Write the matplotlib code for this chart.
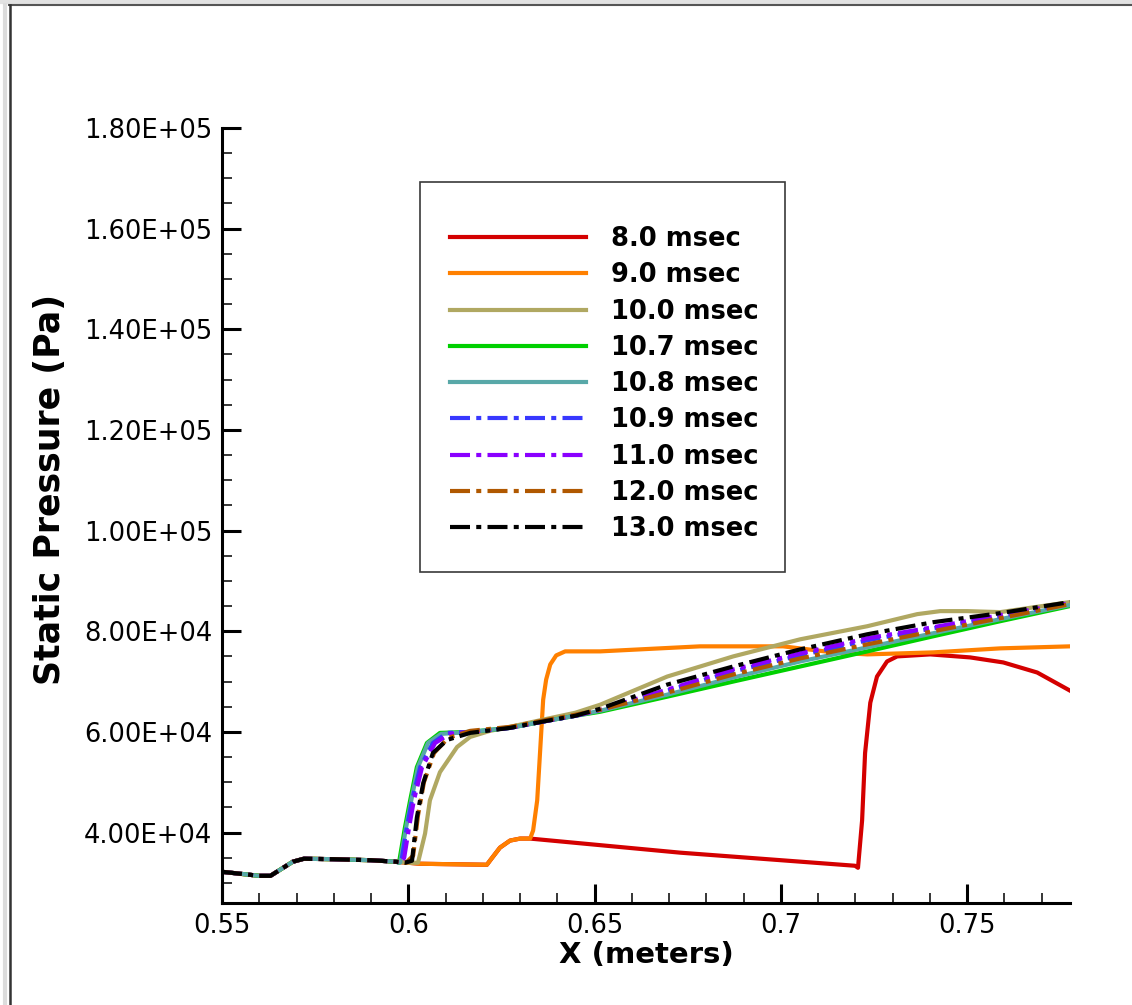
import matplotlib
matplotlib.use('Agg')
import matplotlib.pyplot as plt
from matplotlib.lines import Line2D
from matplotlib.patches import Rectangle
from matplotlib.ticker import MultipleLocator, FormatStrFormatter, FuncFormatter

plt.rcParams['font.family'] = ['DejaVu Sans']

labels = ['8.0 msec', '9.0 msec', '10.0 msec', '10.7 msec', '10.8 msec',
          '10.9 msec', '11.0 msec', '12.0 msec', '13.0 msec']
colors = ['#d40000', '#ff8000', '#b0a862', '#00d000', '#58a8a8',
          '#3838ff', '#8a00ff', '#b05800', '#000000']
dashed = [False, False, False, False, False, True, True, True, True]

# shared upstream part (X in m, static pressure in Pa)
x_base = [0.550, 0.555, 0.560, 0.563, 0.566, 0.569, 0.572, 0.580, 0.590, 0.5967]
p_base = [32200, 31800, 31400, 31400, 32800, 34200, 34800, 34700, 34500, 34200]

x_8_0 = [0.6032, 0.6211, 0.6219, 0.6246, 0.6273, 0.6300, 0.6327, 0.6730, 0.7199,
         0.7207, 0.7218, 0.7226, 0.7240, 0.7258, 0.7285, 0.7312, 0.7401, 0.7508,
         0.7597, 0.7688, 0.7776]
p_8_0 = [33800, 33600, 34400, 37000, 38400, 38800, 38800, 36000, 33400,
         33000, 42400, 55800, 65800, 71000, 74000, 75000, 75400, 74800,
         73800, 71800, 68200]

x_9_0 = [0.6032, 0.6211, 0.6219, 0.6246, 0.6273, 0.6300, 0.6327, 0.6335, 0.6346,
         0.6354, 0.6362, 0.6370, 0.6381, 0.6397, 0.6421, 0.6515, 0.6783, 0.7006,
         0.7140, 0.7232, 0.7409, 0.7589, 0.7776]
p_9_0 = [33800, 33600, 34400, 37000, 38400, 38800, 38800, 40400, 46400,
         56400, 66400, 70400, 73400, 75200, 76000, 76000, 77000, 77000,
         75800, 75400, 75800, 76600, 77000]

x_10_0 = [0.6005, 0.6026, 0.6045, 0.6058, 0.6085, 0.6131, 0.6166, 0.6219, 0.6273,
          0.6372, 0.6448, 0.6515, 0.6695, 0.6872, 0.7052, 0.7232, 0.7366, 0.7428,
          0.7500, 0.7589, 0.7776]
p_10_0 = [34000, 34000, 39800, 46400, 52000, 57000, 59000, 60200, 61000,
          62600, 63800, 65400, 71000, 75000, 78400, 81000, 83400, 84000,
          84000, 83800, 85800]

x_10_7 = [0.5975, 0.5991, 0.6005, 0.6023, 0.6050, 0.6085, 0.6166, 0.6273, 0.6372,
          0.6448, 0.6515, 0.6695, 0.6872, 0.7052, 0.7232, 0.7409, 0.7589, 0.7776]
p_10_7 = [34000, 41000, 46400, 53000, 57800, 59800, 60000, 60800, 62200,
          63200, 64000, 67000, 70000, 73000, 76000, 79000, 82000, 85000]

x_10_8 = [0.5978, 0.5994, 0.6008, 0.6026, 0.6053, 0.6088, 0.6166, 0.6273, 0.6372,
          0.6448, 0.6515, 0.6695, 0.6872, 0.7052, 0.7232, 0.7409, 0.7589, 0.7776]
p_10_8 = [34000, 41000, 46400, 53000, 57800, 59600, 60000, 60800, 62200,
          63200, 64200, 67400, 70800, 74000, 76800, 79600, 82400, 85200]

x_10_9 = [0.5978, 0.5983, 0.5996, 0.6010, 0.6032, 0.6066, 0.6104, 0.6166, 0.6273,
          0.6372, 0.6448, 0.6515, 0.6695, 0.6872, 0.7052, 0.7232, 0.7409, 0.7589,
          0.7776]
p_10_9 = [34000, 35000, 41000, 46400, 53000, 57800, 59800, 60000, 60800,
          62200, 63200, 64400, 68200, 72000, 75200, 78200, 80600, 83000,
          85600]

x_11_0 = [0.5981, 0.5989, 0.6002, 0.6015, 0.6037, 0.6072, 0.6112, 0.6166, 0.6273,
          0.6372, 0.6448, 0.6515, 0.6695, 0.6872, 0.7052, 0.7232, 0.7409, 0.7589,
          0.7776]
p_11_0 = [34000, 35000, 41000, 46400, 53000, 57800, 59600, 60000, 60800,
          62200, 63200, 64400, 68400, 72400, 75600, 78600, 80800, 83200,
          85600]

x_12_0 = [0.5994, 0.6013, 0.6026, 0.6042, 0.6069, 0.6107, 0.6166, 0.6273, 0.6372,
          0.6448, 0.6515, 0.6695, 0.6872, 0.7052, 0.7232, 0.7409, 0.7589, 0.7776]
p_12_0 = [34000, 35400, 43400, 50000, 55800, 58800, 60200, 61000, 62400,
          63400, 64400, 67800, 71400, 74600, 77400, 80000, 82600, 85400]

x_13_0 = [0.5991, 0.6010, 0.6023, 0.6040, 0.6066, 0.6104, 0.6166, 0.6273, 0.6372,
          0.6448, 0.6515, 0.6695, 0.6872, 0.7052, 0.7232, 0.7409, 0.7589, 0.7776]
p_13_0 = [34000, 34400, 43000, 49800, 55800, 58400, 59800, 60800, 62200,
          63200, 64600, 69400, 73000, 76400, 79400, 81800, 83600, 85800]

xs = [x_8_0, x_9_0, x_10_0, x_10_7, x_10_8, x_10_9, x_11_0, x_12_0, x_13_0]
ps = [p_8_0, p_9_0, p_10_0, p_10_7, p_10_8, p_10_9, p_11_0, p_12_0, p_13_0]

W, H = 1132, 1005
fig = plt.figure(figsize=(W / 100, H / 100), dpi=100)
ax = fig.add_axes([222 / W, 1 - 903 / H, (1070 - 222) / W, (903 - 128) / H])

lw = 3.0
dashdot = (0, (4.8, 1.5, 1.2, 1.5))
handles = []
for lab, col, dsh, xv, pv in zip(labels, colors, dashed, xs, ps):
    ls = dashdot if dsh else '-'
    h, = ax.plot(x_base + xv, p_base + pv, color=col, lw=lw, ls=ls, label=lab)
    handles.append(h)

ax.set_xlim(0.55, 0.7776)
ax.set_ylim(26000, 180000)

for s in ['top', 'right']:
    ax.spines[s].set_visible(False)
for s in ['left', 'bottom']:
    ax.spines[s].set_linewidth(2.2)
ax.xaxis.set_ticks_position('bottom')
ax.yaxis.set_ticks_position('left')

ax.xaxis.set_major_locator(MultipleLocator(0.05))
ax.xaxis.set_minor_locator(MultipleLocator(0.01))
ax.yaxis.set_major_locator(MultipleLocator(20000))
ax.yaxis.set_minor_locator(MultipleLocator(5000))
ax.xaxis.set_major_formatter(FuncFormatter(lambda v, p: '%g' % round(v, 4)))
ax.yaxis.set_major_formatter(FormatStrFormatter('%.2E'))
ax.tick_params(which='major', direction='in', length=14, width=2.2,
               labelsize=18.5, pad=7)
ax.tick_params(which='minor', direction='in', length=7, width=1.1)

ax.set_xlabel('X (meters)', fontsize=21, fontweight='bold')
ax.xaxis.set_label_coords(0.5, (903 - 955) / 775)
ax.xaxis.label.set_va('center')
ax.set_ylabel('Static Pressure (Pa)', fontsize=25, fontweight='bold')
ax.yaxis.set_label_coords((50 - 222) / 848, (903 - 489) / 775)
ax.yaxis.label.set_va('center')

leg = fig.legend(handles=handles, loc='upper left',
                 bbox_to_anchor=(450 / W, 1 - 226 / H), frameon=False,
                 prop={'size': 18.5, 'weight': 'bold'}, handlelength=5.3,
                 handletextpad=0.95, labelspacing=0.40, borderpad=0,
                 borderaxespad=0)
fig.add_artist(Rectangle((420 / W, 1 - 572 / H), 365 / W, 390 / H,
                         transform=fig.transFigure, fill=False,
                         edgecolor='#3a3a3a', lw=1.2))

# outer frame (top and left edges of the window)
fig.add_artist(Line2D([0, 1], [1 - 2 / H, 1 - 2 / H], transform=fig.transFigure,
                      color='#e2e2e2', lw=3))
fig.add_artist(Line2D([9 / W, 1], [1 - 5.5 / H, 1 - 5.5 / H],
                      transform=fig.transFigure, color='#555555', lw=1.5))
fig.add_artist(Line2D([5 / W, 5 / W], [0, 1 - 5 / H], transform=fig.transFigure,
                      color='#dcdcdc', lw=3))
fig.add_artist(Line2D([9.5 / W, 9.5 / W], [0, 1 - 5 / H],
                      transform=fig.transFigure, color='#333333', lw=1.8))

fig.savefig('out.png', dpi=100)
